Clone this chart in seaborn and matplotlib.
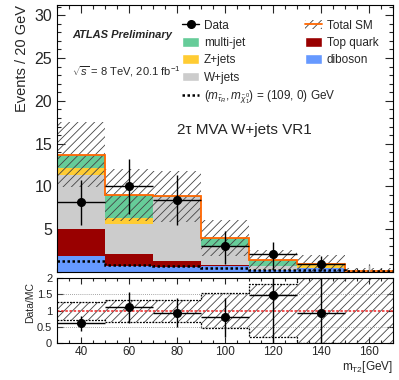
import pandas as pd
import matplotlib
matplotlib.use("Agg")
import matplotlib.pyplot as plt
import seaborn as sns
from matplotlib.lines import Line2D
from matplotlib.patches import Patch
from matplotlib.ticker import MultipleLocator, FixedLocator

sns.set_theme(style="ticks")
plt.rcParams["font.family"] = ["Liberation Sans", "DejaVu Sans"]
plt.rcParams["mathtext.fontset"] = "custom"
plt.rcParams["mathtext.rm"] = "Liberation Sans"
plt.rcParams["mathtext.it"] = "Liberation Sans:italic"
plt.rcParams["mathtext.bf"] = "Liberation Sans:bold"
plt.rcParams["hatch.linewidth"] = 0.6

# binning in m_T2 [GeV]
edges = [30, 50, 70, 90, 110, 130, 150, 170]
centers = [40, 60, 80, 100, 120, 140, 160]

# background stack (top of stack first)
processes = ["multi-jet", "Z+jets", "W+jets", "Top quark", "diboson"]
colors = ["#66cc99", "#ffcc33", "#cccccc", "#990000", "#6699ff"]
multijet = [1.50, 2.70, 0.04, 0.85, 0.66, 0.00, 0.00]
zjets = [0.90, 0.65, 0.00, 0.00, 0.00, 0.55, 0.02]
wjets = [6.22, 3.55, 7.52, 2.30, 0.47, 0.02, 0.05]
topquark = [3.22, 1.37, 0.70, 0.10, 0.02, 0.00, 0.00]
diboson = [1.86, 0.73, 0.58, 0.70, 0.25, 0.43, 0.05]
sm_unc = [3.80, 3.05, 3.00, 2.10, 1.13, 1.00, 0.30]
signal = [1.25, 0.80, 0.75, 0.45, 0.30, 0.25, 0.10]

# data
data_x = [40, 60, 80, 100, 120, 140]
data = [8.2, 10.0, 8.4, 3.06, 2.1, 1.0]
data_up = [2.6, 3.2, 2.9, 1.7, 1.4, 0.9]
data_down = [2.7, 3.2, 2.9, 2.1, 1.85, 0.9]

# ratio panel
ratio = [0.61, 1.10, 0.94, 0.80, 1.48, 0.94]
ratio_up = [0.21, 0.48, 0.44, 0.59, 0.90, 1.50]
ratio_down = [0.25, 0.47, 0.45, 0.60, 1.48, 0.94]
ratio_unc = [0.28, 0.34, 0.34, 0.53, 0.81, 1.00, 1.50]

comps = [multijet, zjets, wjets, topquark, diboson]
rows = []
for name, vals in zip(processes, comps):
    for c, v in zip(centers, vals):
        rows.append({"mt2": c, "events": v, "process": name})
df = pd.DataFrame(rows)
total = [sum(v) for v in zip(*comps)]

fig = plt.figure(figsize=(3.99, 3.80), dpi=100)
ax = fig.add_axes([0.143, 0.284, 0.842, 0.703])
rax = fig.add_axes([0.143, 0.097, 0.842, 0.171])

sns.histplot(data=df, x="mt2", weights="events", hue="process",
             hue_order=processes, palette=colors, multiple="stack",
             bins=edges, element="bars", fill=True, alpha=1, linewidth=0,
             legend=False, ax=ax)

hatch_col = "#444444"
ax.bar(centers, [2 * u for u in sm_unc], bottom=[t - u for t, u in zip(total, sm_unc)],
       width=20, fill=False, hatch="////", edgecolor=hatch_col, linewidth=0)
ax.stairs(total, edges, baseline=None, color="#ff6600", lw=1.3)
ax.stairs(signal, edges, baseline=None, color="black", lw=1.8, ls=(0, (1, 1)))
ax.errorbar(data_x, data, xerr=10, yerr=[data_down, data_up], fmt="o",
            color="black", ms=5.5, elinewidth=1, capsize=0)
ax.errorbar([160], [0], yerr=[[0], [0.8]], fmt="none", ecolor="#aaaaaa", elinewidth=1)

ax.set_xlim(30, 170)
ax.set_ylim(0, 31.2)
ax.yaxis.set_major_locator(FixedLocator([5, 10, 15, 20, 25, 30]))
ax.yaxis.set_minor_locator(MultipleLocator(1))
ax.xaxis.set_major_locator(MultipleLocator(20))
ax.xaxis.set_minor_locator(MultipleLocator(5))
ax.tick_params(which="both", direction="in", top=True, right=True, labelbottom=False,
               labelsize=11.5, width=0.8)
ax.tick_params(which="major", length=6)
ax.tick_params(which="minor", length=3)
ax.set_xlabel("")
ax.set_ylabel("Events / 20 GeV", fontsize=10.5, loc="top")

ax.text(0.045, 0.888, "ATLAS Preliminary", transform=ax.transAxes, fontsize=8,
        fontweight="bold", fontstyle="italic", va="center")
ax.text(0.045, 0.749, r"$\sqrt{s}$ = 8 TeV, 20.1 fb$^{-1}$", transform=ax.transAxes,
        fontsize=8, va="center")
ax.text(0.557, 0.532, "2τ MVA W+jets VR1", transform=ax.transAxes, fontsize=11,
        ha="center", va="center")

h_data = Line2D([], [], color="black", marker="o", ms=5.5, lw=1)
h_sig = Line2D([], [], color="black", lw=1.8, ls=(0, (1, 1)))
left_h = [h_data, Patch(fc=colors[0]), Patch(fc=colors[1]), Patch(fc=colors[2]), h_sig]
left_l = ["Data", "multi-jet", "Z+jets", "W+jets",
          r"$(m_{\tilde{\tau}_{R}},m_{\tilde{\chi}^{0}_{1}})$ = (109, 0) GeV"]
h_tot = (Patch(fc="none", hatch="////", ec=hatch_col, lw=0),
         Line2D([], [], color="#ff6600", lw=1.3))
right_h = [h_tot, Patch(fc=colors[3]), Patch(fc=colors[4])]
right_l = ["Total SM", "Top quark", "diboson"]
common = dict(frameon=False, fontsize=8.5, handlelength=1.45, handleheight=0.9,
              handletextpad=0.4, labelspacing=0.45, borderpad=0, borderaxespad=0,
              loc="upper left")
leg1 = ax.legend(left_h, left_l, bbox_to_anchor=(0.372, 0.945), **common)
ax.add_artist(leg1)
ax.legend(right_h, right_l, bbox_to_anchor=(0.738, 0.945), **common)

# ratio panel
rlo = [1 - u for u in ratio_unc]
rhi = [1 + u for u in ratio_unc]
rax.bar(centers, [2 * u for u in ratio_unc], bottom=rlo, width=20, fill=False,
        hatch="////", edgecolor=hatch_col, linewidth=0)
rax.stairs(rhi, edges, baseline=None, color="black", lw=0.9, ls=(0, (1.5, 1)))
rax.stairs(rlo, edges, baseline=None, color="black", lw=0.9, ls=(0, (1.5, 1)))
for yv in [0.5, 1.5]:
    rax.axhline(yv, color="#888888", lw=0.6, ls=(0, (1, 1.5)))
rax.axhline(1, color="#ee3333", lw=1.2, ls=(0, (1.5, 1)))
rax.errorbar(data_x, ratio, xerr=10, yerr=[ratio_down, ratio_up], fmt="o",
             color="black", ms=5.5, elinewidth=1, capsize=0)
rax.set_xlim(30, 170)
rax.set_ylim(0, 2)
rax.set_yticks([0, 0.5, 1, 1.5, 2])
rax.set_yticklabels(["0", "0.5", "1", "1.5", "2"])
rax.xaxis.set_major_locator(MultipleLocator(20))
rax.xaxis.set_minor_locator(MultipleLocator(5))
rax.tick_params(which="both", direction="in", top=True, right=True, width=0.8)
rax.tick_params(axis="y", labelsize=8)
rax.tick_params(axis="x", labelsize=8.5, pad=2)
rax.tick_params(which="major", length=4)
rax.tick_params(which="minor", length=2)
rax.set_ylabel("Data/MC", fontsize=7.5)
rax.yaxis.set_label_coords(-0.065, 0.62)
rax.set_xlabel(r"m$_{\mathrm{T2}}$[GeV]", fontsize=8.5, loc="right", labelpad=1)

for a in (ax, rax):
    for s in a.spines.values():
        s.set_linewidth(0.8)
        s.set_color("black")

fig.savefig("out.png", dpi=100)
